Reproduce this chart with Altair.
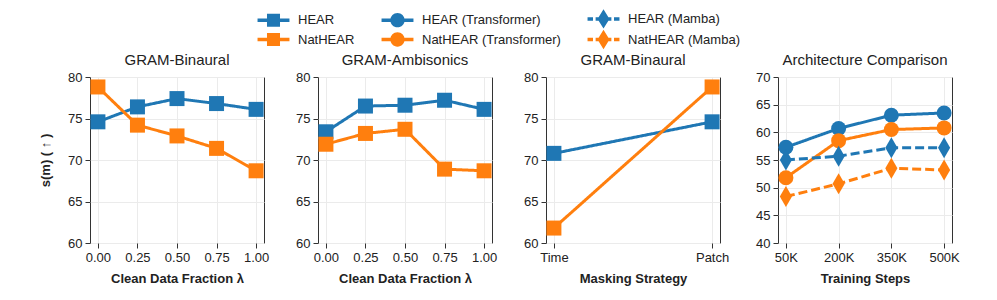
import altair as alt
import pandas as pd

# ---------------- data ----------------
lam = [0.0, 0.25, 0.5, 0.75, 1.0]
bin_hear = [74.6, 76.4, 77.4, 76.8, 76.1]
bin_nat = [78.8, 74.2, 72.9, 71.4, 68.7]
amb_hear = [73.4, 76.5, 76.6, 77.2, 76.1]
amb_nat = [71.9, 73.2, 73.7, 68.9, 68.7]
mask = ["Time", "Patch"]
mask_hear = [70.8, 74.6]
mask_nat = [61.8, 78.8]
steps = ["50K", "200K", "350K", "500K"]
hear_tr = [57.3, 60.7, 63.1, 63.5]
nat_tr = [51.8, 58.5, 60.5, 60.8]
hear_mb = [55.0, 55.7, 57.2, 57.2]
nat_mb = [48.4, 50.7, 53.5, 53.2]

series_order = ["HEAR", "HEAR (Transformer)", "HEAR (Mamba)",
                "NatHEAR", "NatHEAR (Transformer)", "NatHEAR (Mamba)"]
BLUE = "#1f77b4"
ORANGE = "#ff7f0e"
colors = [BLUE, BLUE, BLUE, ORANGE, ORANGE, ORANGE]
color_of = dict(zip(series_order, colors))

# legend symbol paths (line + marker)
LINE = "M-1.52,-0.17H1.52V0.17H-1.52Z"
DASH = ("M-1.52,-0.17H-1.0V0.17H-1.52Z"
        "M-0.75,-0.17H0.75V0.17H-0.75Z"
        "M1.0,-0.17H1.52V0.17H1.0Z")
SQ = "M-0.62,-0.62H0.62V0.62H-0.62Z"
CI = "M0.68,0A0.68,0.68,0,1,1,-0.68,0A0.68,0.68,0,1,1,0.68,0Z"
DI = "M0,-0.92L0.57,0L0,0.92L-0.57,0Z"
leg_shapes = [LINE + SQ, LINE + CI, DASH + DI, LINE + SQ, LINE + CI, DASH + DI]

DIAMOND_PT = "M0,-1L0.58,0L0,1L-0.58,0Z"

FONT = "Liberation Sans"


def frame(records):
    return pd.DataFrame(records)


def xq(title, values, fmt):
    return alt.X("x:Q", title=title,
                 scale=alt.Scale(domain=[-0.05, 1.05], nice=False, zero=False),
                 axis=alt.Axis(values=values, format=fmt))


def xo(title, cats, pad):
    return alt.X("x:O", title=title, sort=cats,
                 scale=alt.Scale(type="point", padding=pad),
                 axis=alt.Axis(labelAngle=0))


def yq(dom, ytitle):
    kw = dict(title=ytitle) if ytitle else dict(title=None)
    return alt.Y("y:Q", scale=alt.Scale(domain=dom, nice=False, zero=False),
                 axis=alt.Axis(values=list(range(dom[0], dom[1] + 1, 5))), **kw)


def panel(df, x, y, title, shape_map, dash_map, extra=None):
    layers = []
    for s in df["series"].unique():
        sub = df[df["series"] == s]
        c = color_of[s]
        line = alt.Chart(sub).mark_line(strokeWidth=3, strokeDash=dash_map[s], color=c).encode(
            x=x, y=y)
        shp, size = shape_map[s]
        pts = alt.Chart(sub).mark_point(filled=True, opacity=1, shape=shp, size=size,
                                        strokeWidth=1, color=c).encode(x=x, y=y)
        layers += [line, pts]
    if extra is not None:
        layers.append(extra)
    return alt.layer(*layers).properties(
        width=174, height=166,
        title=alt.Title(title, fontSize=15, fontWeight="normal", font=FONT, color="#222", offset=3))


d1 = frame([{"x": a, "y": b, "series": "HEAR"} for a, b in zip(lam, bin_hear)] +
           [{"x": a, "y": b, "series": "NatHEAR"} for a, b in zip(lam, bin_nat)])
d2 = frame([{"x": a, "y": b, "series": "HEAR"} for a, b in zip(lam, amb_hear)] +
           [{"x": a, "y": b, "series": "NatHEAR"} for a, b in zip(lam, amb_nat)])
d3 = frame([{"x": a, "y": b, "series": "HEAR"} for a, b in zip(mask, mask_hear)] +
           [{"x": a, "y": b, "series": "NatHEAR"} for a, b in zip(mask, mask_nat)])
d4 = frame([{"x": a, "y": b, "series": "HEAR (Transformer)"} for a, b in zip(steps, hear_tr)] +
           [{"x": a, "y": b, "series": "NatHEAR (Transformer)"} for a, b in zip(steps, nat_tr)] +
           [{"x": a, "y": b, "series": "HEAR (Mamba)"} for a, b in zip(steps, hear_mb)] +
           [{"x": a, "y": b, "series": "NatHEAR (Mamba)"} for a, b in zip(steps, nat_mb)])

sq_map = {"HEAR": ("square", 225), "NatHEAR": ("square", 225)}
solid = {"HEAR": [1, 0], "NatHEAR": [1, 0]}
arch_map = {"HEAR (Transformer)": ("circle", 225), "NatHEAR (Transformer)": ("circle", 225),
            "HEAR (Mamba)": (DIAMOND_PT, 441), "NatHEAR (Mamba)": (DIAMOND_PT, 441)}
arch_dash = {"HEAR (Transformer)": [1, 0], "NatHEAR (Transformer)": [1, 0],
             "HEAR (Mamba)": [9, 4], "NatHEAR (Mamba)": [9, 4]}

p1 = panel(d1, xq("Clean Data Fraction λ", lam, ".2f"), yq([60, 80], "s(m) ( ↑ )"),
           "GRAM-Binaural", sq_map, solid)
p2 = panel(d2, xq("Clean Data Fraction λ", lam, ".2f"), yq([60, 80], None),
           "GRAM-Ambisonics", sq_map, solid)
p3 = panel(d3, xo("Masking Strategy", mask, 0.05), yq([60, 80], None),
           "GRAM-Binaural", sq_map, solid)

leg_props = dict(title=None, orient="none", legendX=173, legendY=-69,
                 columns=3, direction="horizontal",
                 symbolSize=441, symbolStrokeWidth=0,
                 labelOffset=14, columnPadding=26, rowPadding=0,
                 labelFontSize=13, labelFont=FONT, labelColor="#222", padding=0)

# legend-only layer (points clipped away, outside the y domain)
leg_df = frame([{"x": steps[0], "y": 0, "series": s} for s in series_order])
legend_layer = alt.Chart(leg_df).mark_point(filled=True, clip=True, opacity=1).encode(
    x=xo("Training Steps", steps, 0.15), y=yq([40, 70], None),
    color=alt.Color("series:N", scale=alt.Scale(domain=series_order, range=colors),
                    legend=alt.Legend(**leg_props)),
    shape=alt.Shape("series:N", scale=alt.Scale(domain=series_order, range=leg_shapes),
                    legend=alt.Legend(**leg_props)),
)

p4 = panel(d4, xo("Training Steps", steps, 0.15), yq([40, 70], None),
           "Architecture Comparison", arch_map, arch_dash, extra=legend_layer)

chart = alt.hconcat(p1, p2, p3, p4, spacing=25).properties(
    padding={"left": 31, "top": 0, "right": 5, "bottom": 5}
).configure_view(stroke="#333", strokeWidth=1).configure_axis(
    domain=False, grid=True, gridColor="#ebebeb", gridWidth=1,
    tickColor="#333", tickSize=5, tickWidth=1, labelPadding=3,
    labelFont=FONT, labelFontSize=13, labelColor="#222",
    titleFont=FONT, titleFontSize=13, titleFontWeight="bold", titleColor="#222",
    titlePadding=8,
).configure_axisY(titlePadding=15)

chart.save("out.html", embed_options={"renderer": "svg", "actions": False})
